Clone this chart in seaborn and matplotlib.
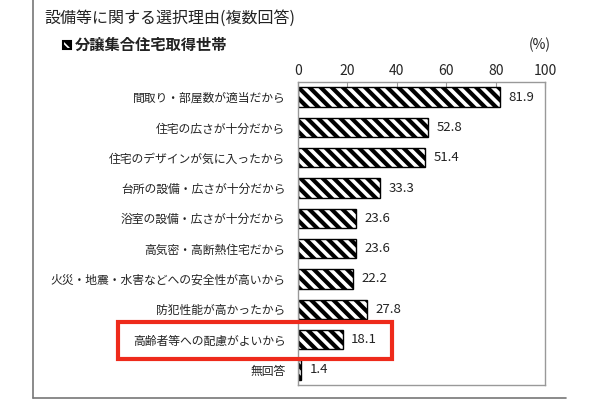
import numpy as np
import pandas as pd
import matplotlib.pyplot as plt
import seaborn as sns
from matplotlib.patches import Rectangle
from matplotlib.lines import Line2D

reasons = [
    '間取り・部屋数が適当だから',
    '住宅の広さが十分だから',
    '住宅のデザインが気に入ったから',
    '台所の設備・広さが十分だから',
    '浴室の設備・広さが十分だから',
    '高気密・高断熱住宅だから',
    '火災・地震・水害などへの安全性が高いから',
    '防犯性能が高かったから',
    '高齢者等への配慮がよいから',
    '無回答',
]
percent = [81.9, 52.8, 51.4, 33.3, 23.6, 23.6, 22.2, 27.8, 18.1, 1.4]
x_ticks = [0, 20, 40, 60, 80, 100]

title = '設備等に関する選択理由(複数回答)'
subtitle = '分譲集合住宅取得世帯'

df = pd.DataFrame({'reason': reasons, 'percent': percent})

sns.set_style('white')
plt.rcParams['font.family'] = ['Noto Sans CJK JP', 'DejaVu Sans']
plt.rcParams['hatch.linewidth'] = 3.0
plt.rcParams['hatch.color'] = 'black'

fig = plt.figure(figsize=(6, 4), dpi=100)
ax = fig.add_axes([0.4967, 0.0375, 0.4117, 0.7575])

sns.barplot(data=df, x='percent', y='reason', orient='h', color='white',
            saturation=1, edgecolor='black', linewidth=1, hatch='\\\\\\',
            width=0.64, ax=ax)

ax.bar_label(ax.containers[0], fmt='%.1f', padding=6, fontsize=9.5, color='#222222')

ax.set_xlim(0, 100)
ax.set_ylim(len(reasons) - 0.5, -0.5)
ax.xaxis.tick_top()
ax.set_xticks(x_ticks)
ax.set_xlabel('')
ax.set_ylabel('')
ax.tick_params(axis='x', direction='in', length=4, color='#999999', labelsize=10, pad=3)
ax.tick_params(axis='y', which='major', length=0, labelsize=8.5, pad=9, labelcolor='#222222')
ax.set_yticks(np.arange(0.5, len(reasons) - 0.5, 1), minor=True)
ax.tick_params(axis='y', which='minor', direction='out', length=3, color='#bbbbbb')
for s in ax.spines.values():
    s.set_color('#999999')
    s.set_linewidth(1)

fig.text(44 / 600, 1 - 18 / 400, title, fontsize=11.5, va='center', ha='left', color='#222222')
fig.text(75 / 600, 1 - 45 / 400, subtitle, fontsize=11, va='center', ha='left',
         color='#222222', fontweight='bold')
fig.text(540 / 600, 1 - 45 / 400, '(%)', fontsize=10, va='center', ha='center', color='#222222')
fig.patches.append(Rectangle((63 / 600, 1 - 49 / 400), 8 / 600, 8 / 400, transform=fig.transFigure,
                             facecolor='white', edgecolor='black', linewidth=1.5, hatch='\\\\\\\\'))

# highlight box
fig.patches.append(Rectangle((118 / 600, 1 - 359 / 400), 274 / 600, 37 / 400, transform=fig.transFigure,
                             fill=False, edgecolor='#ee2a1b', linewidth=3))

# outer frame lines
fig.lines.append(Line2D([33 / 600, 33 / 600], [1.0, 1 - 398 / 400], transform=fig.transFigure,
                        color='#777777', linewidth=1.2))
fig.lines.append(Line2D([33 / 600, 566 / 600], [1 - 398 / 400, 1 - 398 / 400], transform=fig.transFigure,
                        color='#777777', linewidth=1.2))

plt.savefig('out.png', dpi=100)
